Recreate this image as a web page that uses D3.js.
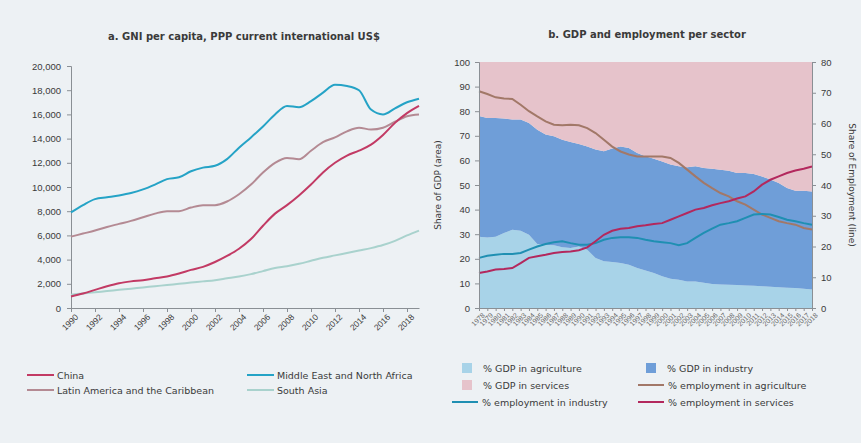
<!DOCTYPE html>
<html><head><meta charset="utf-8">
<script src="https://cdn.jsdelivr.net/npm/d3@7"></script>
<style>
html,body{margin:0;padding:0;background:#edf1f4;}
svg{display:block;font-family:"DejaVu Sans","Noto Sans",sans-serif;}
</style></head><body>
<svg id="c" width="861" height="443"></svg>
<script>
// ---------- Panel a data ----------
const yearsA = d3.range(1990, 2020);
const china = [950,1200,1500,1800,2050,2200,2300,2450,2600,2850,3150,3400,3800,4300,4900,5700,6800,7800,8500,9300,10200,11200,12000,12600,13000,13500,14300,15300,16100,16700];
const mena  = [7900,8500,9000,9150,9300,9500,9800,10200,10650,10800,11300,11600,11750,12300,13250,14100,15000,16000,16700,16600,17100,17800,18450,18350,18000,16400,16000,16500,17000,17300];
const lac   = [5900,6150,6400,6700,6950,7200,7500,7800,8000,8000,8300,8500,8500,8800,9400,10200,11200,12000,12400,12300,13000,13700,14100,14600,14900,14750,14900,15400,15850,16000];
const southAsia = [1100,1200,1300,1400,1500,1600,1700,1800,1900,2000,2100,2200,2300,2450,2600,2800,3050,3300,3450,3650,3900,4150,4350,4550,4750,4950,5200,5550,6000,6400];
const ticksA = [0,2000,4000,6000,8000,10000,12000,14000,16000,18000,20000];
const xLabelsA = d3.range(1990, 2019, 2);
const seriesA = [
  {name:"China", values:china, color:"#c23a64"},
  {name:"Middle East and North Africa", values:mena, color:"#25a3c6"},
  {name:"Latin America and the Caribbean", values:lac, color:"#b48a93"},
  {name:"South Asia", values:southAsia, color:"#a9d2cd"}
];

// ---------- Panel b data ----------
const yearsB = d3.range(1978, 2019);
const gdpAgri  = [29,28.7,29,30.5,31.8,31.4,29.8,26,25.7,25.5,24.7,24.4,25,23.7,20.3,19,18.7,18.3,17.6,16.3,15.2,14.2,12.9,11.9,11.5,10.8,10.8,10.3,9.8,9.6,9.5,9.3,9.1,9.0,8.8,8.6,8.4,8.2,8.1,7.8,7.5];
const gdpAgriIndTop = [78,77.2,77.2,77,76.6,76.6,75.2,72.5,70.5,69.8,68.4,67.5,66.7,65.7,64.4,63.7,64.8,65.7,65,63,61.7,60.7,59.6,58.3,57.6,57.2,57.6,56.9,56.6,56.2,55.8,54.9,54.9,54.5,53.5,52.2,50.8,48.8,47.7,47.7,47.4];
const gdpInd = gdpAgriIndTop.map((t,i)=>+(t-gdpAgri[i]).toFixed(1));
const gdpServ = gdpAgriIndTop.map(t=>+(100-t).toFixed(1));
const empAgri = [70.5,69.6,68.5,68.1,68,66.1,64,62.3,60.7,59.6,59.4,59.6,59.4,58.5,56.9,54.7,52.5,50.9,49.9,49.3,49.3,49.3,49.3,48.8,47.2,45,42.8,40.7,39,37.4,36.3,34.7,33.6,32,30.4,29.3,28.2,27.6,27.1,26,25.5];
const empInd  = [16.3,17,17.3,17.6,17.6,17.9,19,20,20.8,21.4,21.7,21.1,20.6,20.6,21.1,22.2,22.8,23,23,22.8,22.2,21.7,21.4,21.1,20.4,21.1,22.8,24.4,25.8,27.1,27.6,28.2,29.3,30.4,30.6,30.4,29.6,28.7,28.2,27.6,27.1];
const empServ = [11.4,11.9,12.5,12.7,13,14.6,16.3,16.8,17.3,17.9,18.2,18.4,18.8,19.7,21.7,23.8,25.1,25.8,26,26.6,26.9,27.3,27.6,28.7,29.8,30.9,32,32.5,33.4,34.1,34.7,35.6,36.3,37.9,40.1,41.7,42.8,43.9,44.7,45.3,46];
const ticksBLeft = d3.range(0, 101, 10);
const ticksBRight = d3.range(0, 81, 10);

const svg = d3.select("#c");
const axisColor = "#8a8f94";
const textColor = "#3a3a3a";

// ---------- Panel a ----------
{
  const x = d3.scaleLinear().domain([1990, 2019]).range([71, 419]);
  const y = d3.scaleLinear().domain([0, 20000]).range([308, 66]);
  const g = svg.append("g");
  g.append("text").attr("x", 244).attr("y", 40).attr("text-anchor","middle")
    .attr("font-size", 10).attr("font-weight","bold").attr("fill", textColor)
    .text("a. GNI per capita, PPP current international US$");

  const ya = g.append("g").attr("transform","translate(71,0)")
    .call(d3.axisLeft(y).tickValues(ticksA).tickSize(4).tickFormat(d3.format(",")));
  ya.selectAll("text").attr("font-size", 9.5).attr("fill", textColor).attr("dx", -3);
  const xa = g.append("g").attr("transform","translate(0,308)")
    .call(d3.axisBottom(x).tickValues(xLabelsA).tickSize(4).tickFormat(d3.format("d")).tickSizeOuter(0));
  xa.selectAll("text").attr("font-size", 8.5).attr("fill", textColor)
    .attr("text-anchor","end").attr("dx","-0.2em").attr("dy","0.6em")
    .attr("transform","rotate(-45)");
  [ya, xa].forEach(a=>{a.selectAll("line,path").attr("stroke", axisColor);});

  const line = d3.line().x((d,i)=>x(yearsA[i])).y(d=>y(d)).curve(d3.curveMonotoneX);
  [seriesA[3], seriesA[2], seriesA[1], seriesA[0]].forEach(s=>{
    g.append("path").attr("d", line(s.values)).attr("fill","none")
      .attr("stroke", s.color).attr("stroke-width", 2);
  });

  const leg = [
    {s:seriesA[0], x:27, y:375},
    {s:seriesA[1], x:247, y:375},
    {s:seriesA[2], x:27, y:390},
    {s:seriesA[3], x:247, y:390}
  ];
  leg.forEach(l=>{
    g.append("line").attr("x1", l.x).attr("x2", l.x+27).attr("y1", l.y).attr("y2", l.y)
      .attr("stroke", l.s.color).attr("stroke-width", 2);
    g.append("text").attr("x", l.x+30).attr("y", l.y+3.5).attr("font-size", 9.5)
      .attr("fill", textColor).text(l.s.name);
  });
}

// ---------- Panel b ----------
{
  const x = d3.scaleLinear().domain([1978, 2018]).range([479, 812]);
  const yL = d3.scaleLinear().domain([0, 100]).range([308, 62]);
  const yR = d3.scaleLinear().domain([0, 80]).range([308, 62]);
  const g = svg.append("g");
  g.append("text").attr("x", 647).attr("y", 38).attr("text-anchor","middle")
    .attr("font-size", 10).attr("font-weight","bold").attr("fill", textColor)
    .text("b. GDP and employment per sector");

  const rows = yearsB.map((yr,i)=>({year:yr, agri:gdpAgri[i], ind:gdpInd[i], serv:gdpServ[i]}));
  const stack = d3.stack().keys(["agri","ind","serv"])(rows);
  const areaColors = {agri:"#a8d3e8", ind:"#6f9ed8", serv:"#e6c3cb"};
  const area = d3.area().x(d=>x(d.data.year)).y0(d=>yL(d[0])).y1(d=>yL(d[1]));
  stack.forEach(layer=>{
    g.append("path").attr("d", area(layer)).attr("fill", areaColors[layer.key]);
  });

  const lineR = vals => d3.line().x((d,i)=>x(yearsB[i])).y(d=>yR(d))(vals);
  [{v:empAgri,c:"#a27868"},{v:empInd,c:"#1f8fb2"},{v:empServ,c:"#b3285d"}].forEach(s=>{
    g.append("path").attr("d", lineR(s.v)).attr("fill","none").attr("stroke", s.c).attr("stroke-width", 2);
  });

  const yla = g.append("g").attr("transform","translate(479,0)")
    .call(d3.axisLeft(yL).tickValues(ticksBLeft).tickSize(4));
  yla.selectAll("text").attr("font-size", 9.5).attr("fill", textColor).attr("dx", -2);
  const yra = g.append("g").attr("transform","translate(812,0)")
    .call(d3.axisRight(yR).tickValues(ticksBRight).tickSize(4));
  yra.selectAll("text").attr("font-size", 9.5).attr("fill", textColor).attr("dx", 2);
  const xa = g.append("g").attr("transform","translate(0,308)")
    .call(d3.axisBottom(x).tickValues(yearsB).tickSize(3).tickFormat(d3.format("d")).tickSizeOuter(0));
  xa.selectAll("text").attr("font-size", 7).attr("fill", "#666")
    .attr("text-anchor","end").attr("dx","-0.2em").attr("dy","0.5em")
    .attr("transform","rotate(-45)");
  [yla, yra, xa].forEach(a=>{a.selectAll("line,path").attr("stroke", axisColor);});

  g.append("text").attr("transform","translate(441,185) rotate(-90)").attr("text-anchor","middle")
    .attr("font-size", 9).attr("fill", textColor).text("Share of GDP (area)");
  g.append("text").attr("transform","translate(849,185) rotate(90)").attr("text-anchor","middle")
    .attr("font-size", 9).attr("fill", textColor).text("Share of Employment (line)");

  const legItems = [
    {t:"% GDP in agriculture", type:"sq", c:areaColors.agri, x:462, y:368},
    {t:"% GDP in industry", type:"sq", c:areaColors.ind, x:646, y:368},
    {t:"% GDP in services", type:"sq", c:areaColors.serv, x:462, y:385},
    {t:"% employment in agriculture", type:"ln", c:"#a27868", x:638, y:385},
    {t:"% employment in industry", type:"ln", c:"#1f8fb2", x:452, y:402},
    {t:"% employment in services", type:"ln", c:"#b3285d", x:638, y:402}
  ];
  legItems.forEach(l=>{
    let tx;
    if (l.type === "sq") {
      g.append("rect").attr("x", l.x).attr("y", l.y-5).attr("width", 10).attr("height", 10).attr("fill", l.c);
      tx = l.x + 21;
    } else {
      g.append("line").attr("x1", l.x).attr("x2", l.x+26).attr("y1", l.y).attr("y2", l.y)
        .attr("stroke", l.c).attr("stroke-width", 2);
      tx = l.x + 30;
    }
    g.append("text").attr("x", tx).attr("y", l.y+3.5).attr("font-size", 9.5).attr("fill", textColor).text(l.t);
  });
}
</script>
</body></html>
